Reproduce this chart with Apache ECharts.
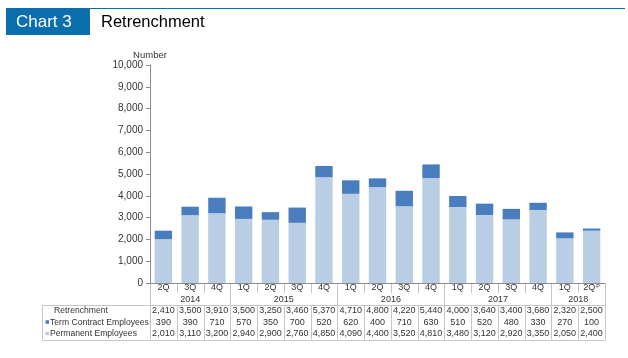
<!DOCTYPE html>
<html><head><meta charset="utf-8">
<script src="https://cdn.jsdelivr.net/npm/echarts@6/dist/echarts.min.js"></script>
<style>html,body{margin:0;padding:0;background:#fff}#c{width:628px;height:358px}</style>
</head><body><div id="c"></div>
<script>
const quarters = ['2Q','3Q','4Q','1Q','2Q','3Q','4Q','1Q','2Q','3Q','4Q','1Q','2Q','3Q','4Q','1Q','2Q'];
const yearNames = ['2014','2015','2016','2017','2018'];
const yearSpans = [3,4,4,4,2];
const total = [2410,3500,3910,3500,3250,3460,5370,4710,4800,4220,5440,4000,3640,3400,3680,2320,2500];
const term = [390,390,710,570,350,700,520,620,400,710,630,510,520,480,330,270,100];
const permanent = [2010,3110,3200,2940,2900,2760,4850,4090,4400,3520,4810,3480,3120,2920,3350,2050,2400];
const rowLabels = ['Retrenchment','Term Contract Employees','Permanent Employees'];

const FONT = '"Liberation Sans", Arial, sans-serif';
const C_LIGHT = '#b9cde5';
const C_DARK = '#4a7dbd';
const C_HEAD = '#0b6fae';
const C_GRIDLINE = '#c6c6c6';
const C_TEXT = '#333333';

const fmt = v => v.toLocaleString('en-US');
const idx = quarters.map((q, i) => String(i));

const chart = echarts.init(document.getElementById('c'), null, {renderer: 'canvas'});
const option = {
  animation: false,
  backgroundColor: '#fff',
  textStyle: {fontFamily: FONT},
  grid: {left: 150, right: 23, top: 65, bottom: 75, containLabel: false},
  xAxis: {
    type: 'category',
    data: idx,
    axisLine: {show: true, lineStyle: {color: '#8c8c8c', width: 1}},
    axisTick: {show: false},
    axisLabel: {
      interval: 0, margin: 0, fontSize: 9, lineHeight: 10, color: C_TEXT, fontFamily: FONT,
      formatter: (v, i) => i === quarters.length - 1 ? quarters[i] + '{p|P}' : quarters[i],
      rich: {p: {fontSize: 5.5, verticalAlign: 'top', padding: [0, 0, 4, 1], color: C_TEXT, fontFamily: FONT}}
    }
  },
  yAxis: {
    type: 'value', min: 0, max: 10000, interval: 1000,
    name: 'Number', nameLocation: 'end', nameGap: 5,
    nameTextStyle: {fontSize: 9.5, color: C_TEXT, fontFamily: FONT, align: 'center'},
    axisLine: {show: true, lineStyle: {color: '#8c8c8c', width: 1}},
    axisTick: {show: true, length: 4, lineStyle: {color: '#8c8c8c'}},
    splitLine: {show: false},
    axisLabel: {fontSize: 10, color: C_TEXT, margin: 7, fontFamily: FONT, formatter: v => fmt(v)}
  },
  series: [
    {name: 'Permanent Employees', type: 'bar', stack: 's', data: permanent, barCategoryGap: '35%', itemStyle: {color: C_LIGHT}},
    {name: 'Term Contract Employees', type: 'bar', stack: 's', data: term, barCategoryGap: '35%', itemStyle: {color: C_DARK}}
  ]
};
chart.setOption(option);

// build header + data table from the axis scale
const n = quarters.length;
const cx = i => chart.convertToPixel({xAxisIndex: 0}, String(i));
const cw = cx(1) - cx(0);
const xL = cx(0) - cw / 2;
const xR = cx(n - 1) + cw / 2;
const yAxisPix = chart.convertToPixel({yAxisIndex: 0}, 0);
const yQ = yAxisPix + 10;     // bottom of quarter row separators
const yTop = yAxisPix + 22;   // top of data table
const rowH = 11.5;
const yBot = yTop + rowH * 3;
const tableLeft = 42;

const g = [];
const line = (x1, y1, x2, y2, c) => g.push({type: 'line', silent: true, shape: {x1, y1, x2, y2}, style: {stroke: c || C_GRIDLINE, lineWidth: 1}});
const px = v => Math.round(v) + 0.5;

// header
g.push({type: 'rect', shape: {x: 6, y: 8, width: 84, height: 27}, style: {fill: C_HEAD}});
g.push({type: 'line', shape: {x1: 90, y1: 8.5, x2: 625, y2: 8.5}, style: {stroke: C_HEAD, lineWidth: 1.2}});
g.push({type: 'text', x: 16, y: 22, style: {text: 'Chart 3', fill: '#fff', font: '17px ' + FONT, verticalAlign: 'middle'}});
g.push({type: 'text', x: 101, y: 22, style: {text: 'Retrenchment', fill: '#000', font: '16.5px ' + FONT, verticalAlign: 'middle'}});

// year boundaries
const yearBounds = new Set();
let acc = 0;
yearSpans.forEach(s => { acc += s; yearBounds.add(acc); });

// vertical lines in axis-label area
line(px(xL), yAxisPix, px(xL), yTop);
for (let i = 1; i < n; i++) {
  const x = px(xL + i * cw);
  line(x, yAxisPix, x, yearBounds.has(i) ? yTop : yQ);
}
line(px(xR), yAxisPix, px(xR), yTop);

// year labels
acc = 0;
yearNames.forEach((y, k) => {
  const xc = xL + (acc + yearSpans[k] / 2) * cw;
  acc += yearSpans[k];
  g.push({type: 'text', x: xc, y: yQ + 6.5, style: {text: y, fill: C_TEXT, font: '9px ' + FONT, align: 'center', verticalAlign: 'middle'}});
});

// data table borders
line(tableLeft, px(yTop), px(xR), px(yTop));
line(tableLeft, px(yBot), px(xR), px(yBot));
line(px(tableLeft), yTop, px(tableLeft), yBot);
line(px(xL), yTop, px(xL), yBot);
for (let i = 1; i <= n; i++) { const x = px(xL + i * cw); line(x, yTop, x, yBot); }

// row labels and markers
const rows = [total, term, permanent];
const markers = [null, C_DARK, C_LIGHT];
rows.forEach((arr, r) => {
  const yc = yTop + rowH * (r + 0.5);
  if (markers[r]) {
    g.push({type: 'rect', shape: {x: 45.5, y: yc - 2, width: 3.5, height: 3.5}, style: {fill: markers[r]}});
    g.push({type: 'text', x: 50, y: yc, style: {text: rowLabels[r], fill: C_TEXT, font: '8.6px ' + FONT, verticalAlign: 'middle'}});
  } else {
    g.push({type: 'text', x: 54, y: yc, style: {text: rowLabels[r], fill: C_TEXT, font: '8.6px ' + FONT, verticalAlign: 'middle'}});
  }
  arr.forEach((v, i) => {
    g.push({type: 'text', x: cx(i), y: yc, style: {text: fmt(v), fill: C_TEXT, font: '9px ' + FONT, align: 'center', verticalAlign: 'middle'}});
  });
});

chart.setOption({graphic: {elements: g}});
</script></body></html>
